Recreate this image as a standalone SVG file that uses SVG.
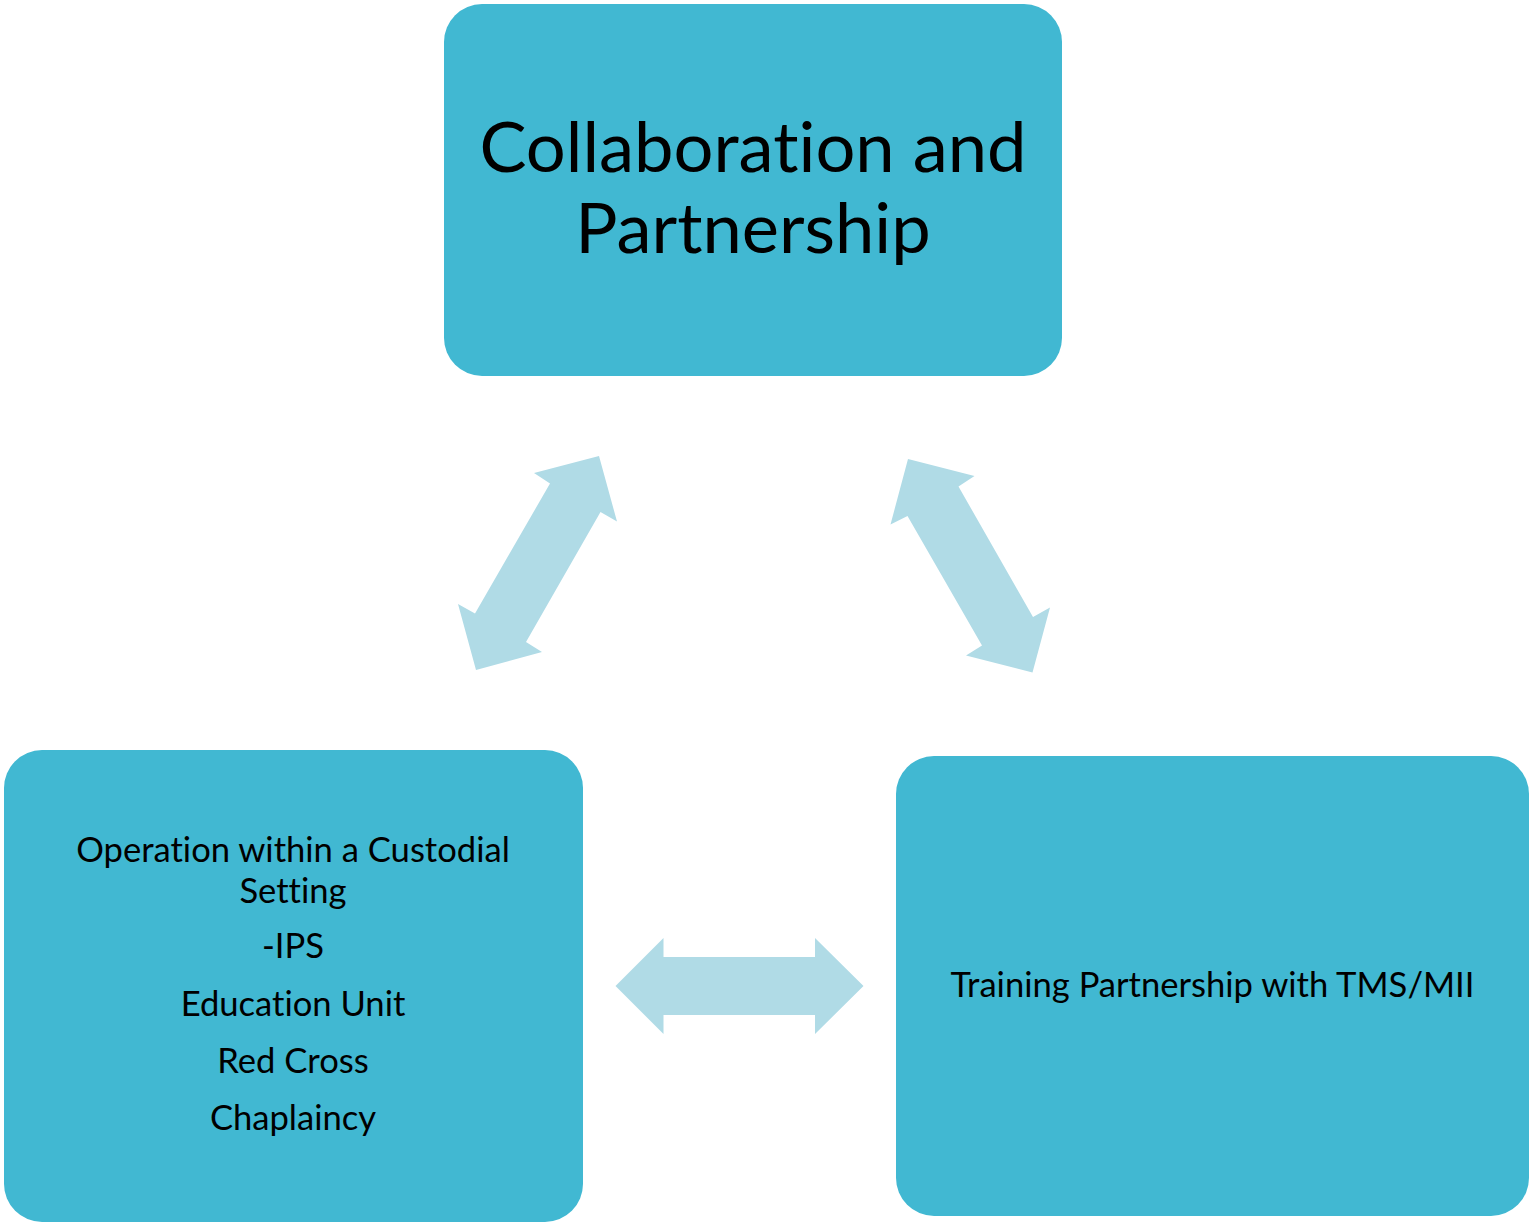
<svg xmlns="http://www.w3.org/2000/svg" width="1529" height="1225" viewBox="0 0 1529 1225">
  <style>
    .box { fill: #41B8D2; }
    .arr { fill: #B0DBE6; }
    .t { font-family: Lato, "Open Sans", "Liberation Sans", sans-serif; fill: #000; text-anchor: middle; font-variant-ligatures: none; font-feature-settings: "liga" 0, "clig" 0; }
    .big { font-size: 70.5px; }
    .small { font-size: 34.6px; }
  </style>
  <rect width="1529" height="1225" fill="#FFFFFF"/>
  <g id="connectors">
    <polygon class="arr" points="534,473 599,456 617,521.5 600.5,512 526,642 542,652 476,670 458,604 475,613.5 550,483.5"/>
    <polygon class="arr" points="908,459 974.5,476 958.5,486.5 1033,617 1050,607.5 1032.5,672.5 966,655.5 982,645.5 907.5,516 890.5,524.5"/>
    <polygon class="arr" points="615.5,986 663.5,938 663.5,957 815,957 815,938 863.5,986 815,1034 815,1015 663.5,1015 663.5,1034"/>
  </g>
  <g id="node-top">
    <rect class="box" x="444" y="4" width="618" height="372" rx="38" ry="38"/>
    <text class="t big" x="753" y="172">Collaboration and</text>
    <text class="t big" x="753" y="253">Partnership</text>
  </g>
  <g id="node-left">
    <rect class="box" x="4" y="750" width="579" height="472" rx="38" ry="38"/>
    <text class="t small" x="293" y="862">Operation within a Custodial</text>
    <text class="t small" x="293" y="903">Setting</text>
    <text class="t small" x="293" y="958">-IPS</text>
    <text class="t small" x="293" y="1016">Education Unit</text>
    <text class="t small" x="293" y="1073">Red Cross</text>
    <text class="t small" x="293" y="1130">Chaplaincy</text>
  </g>
  <g id="node-right">
    <rect class="box" x="896" y="756" width="633" height="460" rx="38" ry="38"/>
    <text class="t small" x="1212.5" y="997">Training Partnership with TMS/MII</text>
  </g>
</svg>
